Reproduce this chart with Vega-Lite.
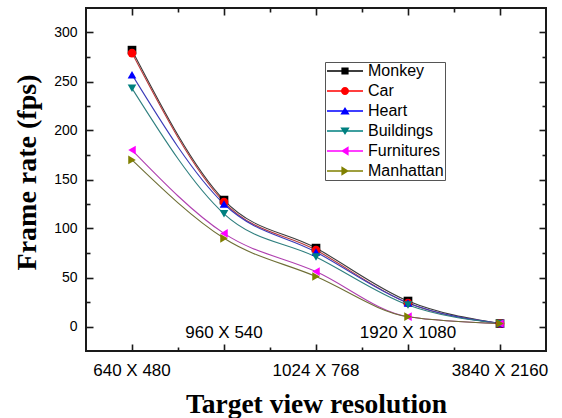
{
  "$schema": "https://vega.github.io/schema/vega-lite/v6.json",
  "width": 460,
  "height": 343,
  "autosize": "none",
  "padding": {"left": 86, "top": 8, "right": 16, "bottom": 67},
  "background": "white",
  "config": {
    "view": {"stroke": "#1a1a1a", "strokeWidth": 2},
    "axis": {"grid": false, "domain": false, "labelFont": "Liberation Sans", "titleFont": "Liberation Serif", "titleFontWeight": "bold", "titleFontSize": 28, "titleColor": "black", "labelColor": "black", "tickColor": "#1a1a1a", "tickWidth": 1.6, "labelOverlap": false, "labelBound": false, "labelFlush": false}
  },
  "data": {
    "values": [
      {"series": "Monkey", "res": "640 X 480", "fps": 282},
      {"series": "Monkey", "res": "960 X 540", "fps": 129},
      {"series": "Monkey", "res": "1024 X 768", "fps": 80},
      {"series": "Monkey", "res": "1920 X 1080", "fps": 26},
      {"series": "Monkey", "res": "3840 X 2160", "fps": 3},
      {"series": "Car", "res": "640 X 480", "fps": 279},
      {"series": "Car", "res": "960 X 540", "fps": 127},
      {"series": "Car", "res": "1024 X 768", "fps": 78},
      {"series": "Car", "res": "1920 X 1080", "fps": 24},
      {"series": "Car", "res": "3840 X 2160", "fps": 3},
      {"series": "Heart", "res": "640 X 480", "fps": 257},
      {"series": "Heart", "res": "960 X 540", "fps": 125},
      {"series": "Heart", "res": "1024 X 768", "fps": 76},
      {"series": "Heart", "res": "1920 X 1080", "fps": 24},
      {"series": "Heart", "res": "3840 X 2160", "fps": 3},
      {"series": "Buildings", "res": "640 X 480", "fps": 243},
      {"series": "Buildings", "res": "960 X 540", "fps": 115},
      {"series": "Buildings", "res": "1024 X 768", "fps": 71},
      {"series": "Buildings", "res": "1920 X 1080", "fps": 22},
      {"series": "Buildings", "res": "3840 X 2160", "fps": 3},
      {"series": "Furnitures", "res": "640 X 480", "fps": 180},
      {"series": "Furnitures", "res": "960 X 540", "fps": 95},
      {"series": "Furnitures", "res": "1024 X 768", "fps": 56},
      {"series": "Furnitures", "res": "1920 X 1080", "fps": 10},
      {"series": "Furnitures", "res": "3840 X 2160", "fps": 3},
      {"series": "Manhattan", "res": "640 X 480", "fps": 170},
      {"series": "Manhattan", "res": "960 X 540", "fps": 90},
      {"series": "Manhattan", "res": "1024 X 768", "fps": 51},
      {"series": "Manhattan", "res": "1920 X 1080", "fps": 10},
      {"series": "Manhattan", "res": "3840 X 2160", "fps": 3}
    ]
  },
  "layer": [
    {
      "mark": {"type": "line", "interpolate": "monotone", "strokeWidth": 1.1},
      "encoding": {
        "x": {"field": "res", "type": "nominal", "sort": ["640 X 480", "960 X 540", "1024 X 768", "1920 X 1080", "3840 X 2160"], "scale": {"type": "band", "paddingInner": 0, "paddingOuter": 0},
          "axis": {"orient": "bottom", "values": ["640 X 480", "1024 X 768", "3840 X 2160"], "ticks": false, "labelFontSize": 17, "labelPadding": 11, "labelAngle": 0, "title": "Target view resolution", "titleY": 61, "titleBaseline": "alphabetic", "titleFontSize": 27.5}},
        "y": {"field": "fps", "type": "quantitative", "scale": {"domain": [-25, 325], "nice": false, "zero": false},
          "axis": {"orient": "left", "values": [0, 50, 100, 150, 200, 250, 300], "ticks": false, "labelFontSize": 14, "labelPadding": 9, "title": "Frame rate (fps)", "titleX": -51, "titleY": 164, "titleBaseline": "alphabetic", "titleFontSize": 28}},
        "color": {"field": "series", "type": "nominal", "scale": {"domain": ["Monkey", "Car", "Heart", "Buildings", "Furnitures", "Manhattan"], "range": ["#3a3a3a", "#b83a3a", "#3a3ab8", "#2f7f7f", "#b040b0", "#6e6e35"]}, "legend": null}
      }
    },
    {
      "mark": {"type": "point", "filled": true, "size": 75, "opacity": 1},
      "encoding": {
        "x": {"field": "res", "type": "nominal", "sort": ["640 X 480", "960 X 540", "1024 X 768", "1920 X 1080", "3840 X 2160"], "scale": {"type": "band", "paddingInner": 0, "paddingOuter": 0},
          "axis": {"orient": "bottom", "values": ["960 X 540", "1920 X 1080"], "ticks": false, "labelFontSize": 17, "labelPadding": -27, "labelAngle": 0, "title": null}},
        "y": {"field": "fps", "type": "quantitative", "scale": {"domain": [-25, 325], "nice": false, "zero": false},
          "axis": {"orient": "left", "values": [0, 50, 100, 150, 200, 250, 300], "labels": false, "tickSize": -7, "title": null}},
        "color": {"field": "series", "type": "nominal", "scale": {"domain": ["Monkey", "Car", "Heart", "Buildings", "Furnitures", "Manhattan"], "range": ["#000000", "#ff0000", "#0000ff", "#008080", "#ff00ff", "#808000"]}, "legend": null},
        "shape": {"field": "series", "type": "nominal", "scale": {"domain": ["Monkey", "Car", "Heart", "Buildings", "Furnitures", "Manhattan"], "range": ["square", "circle", "triangle-up", "triangle-down", "triangle-left", "triangle-right"]}, "legend": null}
      }
    },
    {
      "mark": {"type": "point", "filled": true, "size": 0, "opacity": 1},
      "encoding": {
        "x": {"field": "res", "type": "nominal", "sort": ["640 X 480", "960 X 540", "1024 X 768", "1920 X 1080", "3840 X 2160"], "scale": {"type": "band", "paddingInner": 0, "paddingOuter": 0},
          "axis": {"orient": "bottom", "values": ["640 X 480", "960 X 540", "1024 X 768", "1920 X 1080", "3840 X 2160"], "labels": false, "tickSize": -7, "title": null}},
        "y": {"field": "fps", "type": "quantitative", "scale": {"domain": [-25, 325], "nice": false, "zero": false},
          "axis": {"orient": "left", "values": [25, 75, 125, 175, 225, 275], "labels": false, "tickSize": -4, "title": null}},
        "color": {"field": "series", "type": "nominal", "scale": {"domain": ["Monkey", "Car", "Heart", "Buildings", "Furnitures", "Manhattan"], "range": ["#000000", "#ff0000", "#0000ff", "#008080", "#ff00ff", "#808000"]},
          "legend": {"orient": "none", "legendX": 239, "legendY": 54, "title": null, "labelFont": "Liberation Sans", "labelFontSize": 16, "labelColor": "black", "symbolSize": 256, "symbolStrokeWidth": 0, "symbolOffset": 11, "labelOffset": 15, "padding": 1, "rowPadding": 4, "strokeColor": "#555555", "fillColor": "white", "symbolOpacity": 1}},
        "shape": {"field": "series", "type": "nominal", "scale": {"domain": ["Monkey", "Car", "Heart", "Buildings", "Furnitures", "Manhattan"], "range": [
            "M-2.25,-0.08H2.25V0.08H-2.25ZM-0.45,-0.45H0.45V0.45H-0.45Z",
            "M-2.25,-0.08H2.25V0.08H-2.25ZM-0.5,0A0.5,0.5,0,1,1,0.5,0A0.5,0.5,0,1,1,-0.5,0Z",
            "M-2.25,-0.08H2.25V0.08H-2.25ZM0,-0.5L0.58,0.45H-0.58Z",
            "M-2.25,-0.08H2.25V0.08H-2.25ZM0,0.5L-0.58,-0.45H0.58Z",
            "M-2.25,-0.08H2.25V0.08H-2.25ZM-0.5,0L0.45,-0.58V0.58Z",
            "M-2.25,-0.08H2.25V0.08H-2.25ZM0.5,0L-0.45,0.58V-0.58Z"]},
          "legend": {"orient": "none", "legendX": 239, "legendY": 54, "title": null, "labelFont": "Liberation Sans", "labelFontSize": 16, "labelColor": "black", "symbolSize": 256, "symbolStrokeWidth": 0, "symbolOffset": 11, "labelOffset": 15, "padding": 1, "rowPadding": 4, "strokeColor": "#555555", "fillColor": "white", "symbolOpacity": 1}}
      }
    },
    {
      "mark": {"type": "point", "opacity": 0},
      "encoding": {
        "x": {"field": "res", "type": "nominal", "sort": ["640 X 480", "960 X 540", "1024 X 768", "1920 X 1080", "3840 X 2160"], "scale": {"type": "band", "paddingInner": 0, "paddingOuter": 0},
          "axis": {"orient": "bottom", "values": ["960 X 540", "1024 X 768", "1920 X 1080", "3840 X 2160"], "bandPosition": 0, "labels": false, "tickSize": -4, "title": null}},
        "y": {"field": "fps", "type": "quantitative", "scale": {"domain": [-25, 325], "nice": false, "zero": false},
          "axis": {"orient": "right", "values": [0, 50, 100, 150, 200, 250, 300], "labels": false, "tickSize": -7, "title": null}}
      }
    },
    {
      "mark": {"type": "point", "opacity": 0},
      "encoding": {
        "x": {"field": "res", "type": "nominal", "sort": ["640 X 480", "960 X 540", "1024 X 768", "1920 X 1080", "3840 X 2160"], "scale": {"type": "band", "paddingInner": 0, "paddingOuter": 0},
          "axis": {"orient": "top", "values": ["640 X 480", "960 X 540", "1024 X 768", "1920 X 1080", "3840 X 2160"], "labels": false, "tickSize": -7, "title": null}},
        "y": {"field": "fps", "type": "quantitative", "scale": {"domain": [-25, 325], "nice": false, "zero": false},
          "axis": {"orient": "right", "values": [25, 75, 125, 175, 225, 275], "labels": false, "tickSize": -4, "title": null}}
      }
    },
    {
      "mark": {"type": "point", "opacity": 0},
      "encoding": {
        "x": {"field": "res", "type": "nominal", "sort": ["640 X 480", "960 X 540", "1024 X 768", "1920 X 1080", "3840 X 2160"], "scale": {"type": "band", "paddingInner": 0, "paddingOuter": 0},
          "axis": {"orient": "top", "values": ["960 X 540", "1024 X 768", "1920 X 1080", "3840 X 2160"], "bandPosition": 0, "labels": false, "tickSize": -4, "title": null}},
        "y": {"field": "fps", "type": "quantitative", "scale": {"domain": [-25, 325], "nice": false, "zero": false}, "axis": null}
      }
    }
  ],
  "resolve": {"axis": {"x": "independent", "y": "independent"}, "scale": {"color": "independent", "shape": "independent"}}
}
